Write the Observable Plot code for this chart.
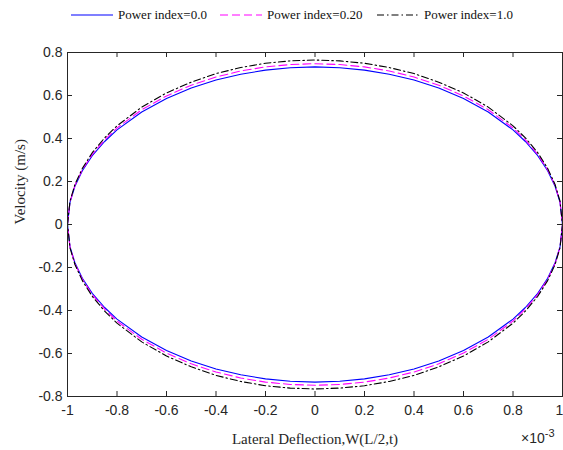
<!DOCTYPE html>
<html><head><meta charset="utf-8">
<script src="https://cdn.jsdelivr.net/npm/d3@7"></script>
<script src="https://cdn.jsdelivr.net/npm/@observablehq/plot@0.6"></script>
<style>
body{margin:0;background:#fff;}
#wrap{position:relative;width:563px;height:450px;}
#legend{position:absolute;left:0;top:5px;width:563px;height:20px;font-family:"Liberation Serif","Times New Roman",serif;font-size:13px;color:#111;}
.item{position:absolute;top:0;display:flex;align-items:center;height:20px;white-space:nowrap;}
.item svg{margin-right:5px;}
#exp{position:absolute;left:521px;top:427px;font-family:"Liberation Sans",Arial,sans-serif;font-size:14px;color:#262626;}
#exp sup{font-size:11px;}
</style></head>
<body><div id="wrap"><div id="legend"></div><div id="exp">&#215;10<sup>-3</sup></div></div>
<script>
// Lateral deflection samples (×10^-3)
const xs = [-1, -0.99, -0.97, -0.94, -0.9, -0.85, -0.8, -0.7, -0.6, -0.5, -0.4, -0.3, -0.2, -0.1, 0,
            0.1, 0.2, 0.3, 0.4, 0.5, 0.6, 0.7, 0.8, 0.85, 0.9, 0.94, 0.97, 0.99, 1];
// Upper-branch velocity (m/s) for each series
const blueUp    = [0, 0.103, 0.178, 0.250, 0.320, 0.386, 0.440, 0.523, 0.586, 0.635, 0.672, 0.699, 0.718, 0.729, 0.733,
                   0.729, 0.718, 0.699, 0.672, 0.635, 0.586, 0.523, 0.440, 0.386, 0.320, 0.250, 0.178, 0.103, 0];
const magUp     = [0, 0.105, 0.182, 0.255, 0.326, 0.394, 0.449, 0.534, 0.598, 0.648, 0.686, 0.714, 0.733, 0.744, 0.748,
                   0.744, 0.733, 0.714, 0.686, 0.648, 0.598, 0.534, 0.449, 0.394, 0.326, 0.255, 0.182, 0.105, 0];
const blackUp   = [0, 0.108, 0.186, 0.261, 0.334, 0.403, 0.459, 0.546, 0.612, 0.662, 0.702, 0.730, 0.750, 0.761, 0.765,
                   0.761, 0.750, 0.730, 0.702, 0.662, 0.612, 0.546, 0.459, 0.403, 0.334, 0.261, 0.186, 0.108, 0];
// Lower-branch velocity (m/s)
const blueDown  = [0, -0.103, -0.178, -0.250, -0.320, -0.386, -0.440, -0.523, -0.586, -0.635, -0.672, -0.699, -0.718, -0.729, -0.733,
                   -0.729, -0.718, -0.699, -0.672, -0.635, -0.586, -0.523, -0.440, -0.386, -0.320, -0.250, -0.178, -0.103, 0];
const magDown   = [0, -0.105, -0.182, -0.255, -0.326, -0.394, -0.449, -0.534, -0.598, -0.648, -0.686, -0.714, -0.733, -0.744, -0.748,
                   -0.744, -0.733, -0.714, -0.686, -0.648, -0.598, -0.534, -0.449, -0.394, -0.326, -0.255, -0.182, -0.105, 0];
const blackDown = [0, -0.108, -0.186, -0.261, -0.334, -0.403, -0.459, -0.546, -0.612, -0.662, -0.702, -0.730, -0.750, -0.761, -0.765,
                   -0.761, -0.750, -0.730, -0.702, -0.662, -0.612, -0.546, -0.459, -0.403, -0.334, -0.261, -0.186, -0.108, 0];
const seriesNames = ["Power index=0.0", "Power index=0.20", "Power index=1.0"];
const xTicks = [-1, -0.8, -0.6, -0.4, -0.2, 0, 0.2, 0.4, 0.6, 0.8, 1];
const yTicks = [-0.8, -0.6, -0.4, -0.2, 0, 0.2, 0.4, 0.6, 0.8];

function loop(up, down) {
  const pts = xs.map((x, i) => ({x, y: up[i]}));
  for (let i = xs.length - 1; i >= 0; i--) pts.push({x: xs[i], y: down[i]});
  return pts;
}
const styles = [
  {stroke: "#0000ff", dash: null},
  {stroke: "#ff00ff", dash: "8,4"},
  {stroke: "#000000", dash: "7,3,1.5,3"}
];
const loops = [loop(blueUp, blueDown), loop(magUp, magDown), loop(blackUp, blackDown)];

const W = 563, H = 450, mL = 67, mR = 1, mT = 52, mB = 54;
const pw = W - mL - mR, ph = H - mT - mB, tk = 5;
const fmt = d => d === 0 ? "0" : String(d);
const serif = "'Liberation Serif','Times New Roman',serif";

const chart = Plot.plot({
  width: W, height: H,
  marginLeft: mL, marginRight: mR, marginTop: mT, marginBottom: mB,
  style: {fontFamily: "'Liberation Sans', Arial, sans-serif", fontSize: "14px", color: "#262626", background: "white"},
  x: {domain: [-1, 1]},
  y: {domain: [-0.8, 0.8]},
  marks: [
    ...loops.map((d, i) => Plot.line(d, {x: "x", y: "y", stroke: styles[i].stroke, strokeWidth: 1.1, strokeDasharray: styles[i].dash, clip: true})),
    Plot.ruleX(xTicks, {stroke: "#262626", insetTop: ph - tk}),
    Plot.ruleX(xTicks, {stroke: "#262626", insetBottom: ph - tk}),
    Plot.ruleY(yTicks, {stroke: "#262626", insetRight: pw - tk}),
    Plot.ruleY(yTicks, {stroke: "#262626", insetLeft: pw - tk}),
    Plot.frame({stroke: "#262626", strokeWidth: 1}),
    Plot.axisX(xTicks.slice(0, -1), {tickSize: 0, tickPadding: 9, tickFormat: fmt, fontSize: 14, label: null}),
    Plot.axisX(xTicks.slice(-1), {tickSize: 0, tickPadding: 9, tickFormat: fmt, fontSize: 14, label: null, dx: -3}),
    Plot.axisY(yTicks, {tickSize: 0, tickPadding: 5, tickFormat: fmt, fontSize: 14, label: null}),
    Plot.text(["Lateral Deflection,W(L/2,t)"], {frameAnchor: "bottom", dy: 47, fontFamily: serif, fontSize: 15, fill: "#262626"}),
    Plot.text(["Velocity (m/s)"], {frameAnchor: "left", dx: -47, rotate: -90, fontFamily: serif, fontSize: 15, fill: "#262626"})
  ]
});
document.getElementById("wrap").appendChild(chart);

// Legend
const legend = document.getElementById("legend");
const lefts = [71, 220, 377];
seriesNames.forEach((name, i) => {
  const item = document.createElement("div");
  item.className = "item";
  item.style.left = lefts[i] + "px";
  const dash = styles[i].dash ? ` stroke-dasharray="${styles[i].dash}"` : "";
  item.innerHTML = `<svg width="42" height="10"><line x1="0" y1="5" x2="42" y2="5" stroke="${styles[i].stroke}" stroke-width="1.2"${dash}/></svg><span>${name}</span>`;
  legend.appendChild(item);
});
</script>
</body></html>
